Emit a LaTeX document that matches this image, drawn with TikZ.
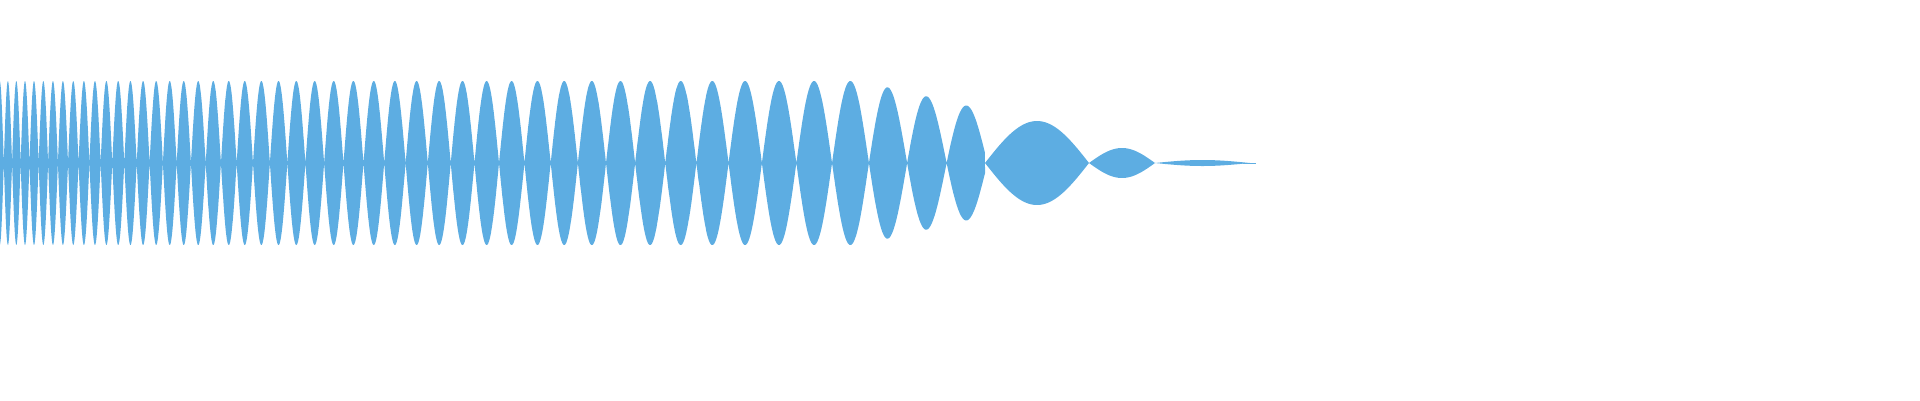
\documentclass[tikz,border=0pt]{standalone}
\definecolor{wave}{RGB}{93,173,226}
\begin{document}
\begin{tikzpicture}[x=1pt,y=-1pt]
\useasboundingbox (0,0) rectangle (1920,400);
\tikzset{lobe/.style={fill=wave,draw=none}}
% chirp part
\fill[lobe] plot[domain=0:985,samples=3000,smooth] ({\x},{163-(\x<860?82:82-(\x-860)*0.23)*abs(sin(180*(ln(1+0.034*\x/8)/0.034-48.47)))})
  -- plot[domain=985:0,samples=3000,smooth] ({\x},{163+(\x<860?82:82-(\x-860)*0.23)*abs(sin(180*(ln(1+0.034*\x/8)/0.034-48.47)))}) -- cycle;
% decaying tail
\foreach \a/\b/\h in {985/1089/42, 1089/1155/15, 1155/1250/3}{
  \fill[lobe] plot[domain=\a:\b,samples=60,smooth] ({\x},{163-\h*sin(180/(\b-\a)*(\x-\a))})
   -- plot[domain=\b:\a,samples=60,smooth] ({\x},{163+\h*sin(180/(\b-\a)*(\x-\a))}) -- cycle;
}
\fill[lobe] (1243,162.5) rectangle (1256,163.5);
\end{tikzpicture}
\end{document}
